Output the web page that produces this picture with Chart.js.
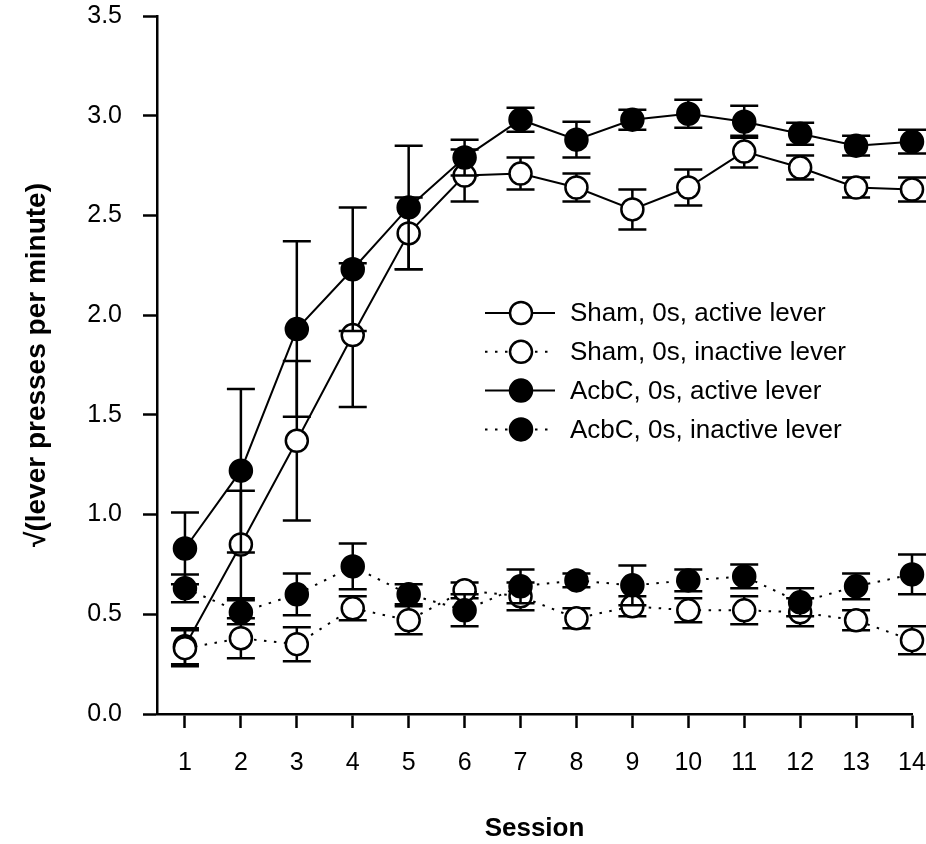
<!DOCTYPE html>
<html>
<head>
<meta charset="utf-8">
<script src="https://cdn.jsdelivr.net/npm/chart.js@4/dist/chart.umd.min.js"></script>
<style>
  html, body { margin: 0; padding: 0; background: #fff; }
  #wrap { width: 926px; height: 844px; }
</style>
</head>
<body>
<div id="wrap"><canvas id="chart" width="926" height="844"></canvas></div>
<script>
// Sessions on the x axis
var sessions = [1, 2, 3, 4, 5, 6, 7, 8, 9, 10, 11, 12, 13, 14];
var yTicks = [0, 0.5, 1, 1.5, 2, 2.5, 3, 3.5];

// Means (sqrt of lever presses per minute) and SEM
var shamActive = [0.34, 0.85, 1.37, 1.90, 2.41, 2.70, 2.71, 2.64, 2.53, 2.64, 2.82, 2.74, 2.64, 2.63];
var shamActiveSem = [0.09, 0.27, 0.40, 0.36, 0.18, 0.13, 0.08, 0.07, 0.10, 0.09, 0.08, 0.06, 0.05, 0.06];
var shamInactive = [0.33, 0.38, 0.35, 0.53, 0.47, 0.62, 0.59, 0.48, 0.54, 0.52, 0.52, 0.51, 0.47, 0.37];
var shamInactiveSem = [0.09, 0.10, 0.085, 0.06, 0.07, 0.04, 0.07, 0.05, 0.05, 0.06, 0.07, 0.07, 0.05, 0.07];
var acbcActive = [0.83, 1.22, 1.93, 2.23, 2.54, 2.79, 2.98, 2.88, 2.98, 3.01, 2.97, 2.91, 2.85, 2.87];
var acbcActiveSem = [0.18, 0.41, 0.44, 0.31, 0.31, 0.09, 0.06, 0.09, 0.05, 0.07, 0.08, 0.055, 0.05, 0.06];
var acbcInactive = [0.63, 0.51, 0.60, 0.74, 0.60, 0.52, 0.64, 0.67, 0.645, 0.67, 0.69, 0.56, 0.64, 0.70];
var acbcInactiveSem = [0.07, 0.06, 0.105, 0.115, 0.05, 0.08, 0.085, 0.035, 0.10, 0.055, 0.06, 0.07, 0.065, 0.10];

var seriesNames = ['Sham, 0s, active lever', 'Sham, 0s, inactive lever', 'AcbC, 0s, active lever', 'AcbC, 0s, inactive lever'];

function pts(vals) {
  return sessions.map(function (s, i) { return { x: s, y: vals[i] }; });
}

Chart.defaults.font.family = '"Liberation Sans", Arial, Helvetica, sans-serif';
Chart.defaults.color = '#000';

// error bars go under each series' own markers but above earlier series
var errorBars = {
  id: 'errorBars',
  beforeDatasetDraw: function (chart, args) {
    var ds = chart.data.datasets[args.index];
    if (!ds.errors) return;
    var ctx = chart.ctx, x = chart.scales.x, y = chart.scales.y, cap = 14;
    ctx.save();
    ctx.strokeStyle = '#000';
    ctx.lineWidth = 2.5;
    ds.data.forEach(function (p, i) {
      var px = x.getPixelForValue(p.x);
      var top = y.getPixelForValue(p.y + ds.errors[i]);
      var bot = y.getPixelForValue(p.y - ds.errors[i]);
      ctx.beginPath();
      ctx.moveTo(px, top); ctx.lineTo(px, bot);
      ctx.moveTo(px - cap, top); ctx.lineTo(px + cap, top);
      ctx.moveTo(px - cap, bot); ctx.lineTo(px + cap, bot);
      ctx.stroke();
    });
    ctx.restore();
  }
};

// legend drawn inside the plot, line sample through the marker
var insideLegend = {
  id: 'insideLegend',
  afterDraw: function (chart) {
    var ctx = chart.ctx, area = chart.chartArea;
    var x0 = area.left + 328, y0 = area.top + 297, rowH = 38.8;
    ctx.save();
    chart.data.datasets.forEach(function (ds, i) {
      var cy = y0 + i * rowH;
      ctx.strokeStyle = '#000';
      ctx.lineWidth = 2;
      ctx.setLineDash(ds.borderDash || []);
      ctx.beginPath();
      ctx.moveTo(x0, cy); ctx.lineTo(x0 + 70, cy);
      ctx.stroke();
      ctx.setLineDash([]);
      ctx.lineWidth = 2.5;
      ctx.beginPath();
      ctx.arc(x0 + 36, cy, 11, 0, Math.PI * 2);
      ctx.fillStyle = ds.pointBackgroundColor;
      ctx.fill();
      ctx.stroke();
      ctx.fillStyle = '#000';
      ctx.font = '26px "Liberation Sans", Arial, sans-serif';
      ctx.textBaseline = 'middle';
      ctx.fillText(ds.label, x0 + 85, cy + 1);
    });
    ctx.restore();
  }
};

function series(name, vals, sem, filled, dotted, order) {
  return {
    label: name,
    data: pts(vals),
    errors: sem,
    borderColor: '#000',
    borderWidth: 2,
    borderDash: dotted ? [2.5, 7.5] : [],
    pointRadius: 11,
    pointBorderWidth: 2.5,
    pointBorderColor: '#000',
    pointBackgroundColor: filled ? '#000' : '#fff',
    tension: 0,
    clip: false,
    order: order
  };
}

var ctx = document.getElementById('chart').getContext('2d');
var chart = new Chart(ctx, {
  type: 'line',
  data: {
    datasets: [
      series(seriesNames[0], shamActive, shamActiveSem, false, false, 4),
      series(seriesNames[1], shamInactive, shamInactiveSem, false, true, 3),
      series(seriesNames[2], acbcActive, acbcActiveSem, true, false, 2),
      series(seriesNames[3], acbcInactive, acbcInactiveSem, true, true, 1)
    ]
  },
  plugins: [errorBars, insideLegend],
  options: {
    responsive: false,
    animation: false,
    events: [],
    layout: { padding: { top: 16, right: 14, bottom: 0, left: 0 } },
    plugins: { legend: { display: false }, tooltip: { enabled: false } },
    scales: {
      x: {
        type: 'linear',
        min: 0.5,
        max: 14,
        afterBuildTicks: function (s) { s.ticks = sessions.map(function (v) { return { value: v }; }); },
        afterFit: function (s) { s.height = 130; s.paddingLeft = 0; s.paddingRight = 0; },
        grid: { drawOnChartArea: false, drawTicks: true, tickLength: 14, tickWidth: 2.5, tickColor: '#000' },
        border: { display: true, color: '#000', width: 2.5 },
        ticks: { font: { size: 25 }, padding: 20, maxRotation: 0, autoSkip: false },
        title: { display: true, text: 'Session', font: { size: 26, weight: 'bold' }, padding: { top: 0, bottom: 0 } }
      },
      y: {
        min: 0,
        max: 3.5,
        afterBuildTicks: function (s) { s.ticks = yTicks.map(function (v) { return { value: v }; }); },
        afterFit: function (s) { s.width = 157; s.paddingTop = 0; s.paddingBottom = 0; },
        grid: { drawOnChartArea: false, drawTicks: true, tickLength: 14, tickWidth: 2.5, tickColor: '#000' },
        border: { display: true, color: '#000', width: 2.5 },
        ticks: { font: { size: 25 }, padding: 21, callback: function (v) { return v.toFixed(1); } },
        title: {
          display: true,
          text: '√(lever presses per minute)',
          font: { family: '"Liberation Sans Narrow", "Liberation Sans", Arial, sans-serif', size: 28, weight: 'bold' },
          padding: { top: 20, bottom: 0 }
        }
      }
    }
  }
});
</script>
</body>
</html>
